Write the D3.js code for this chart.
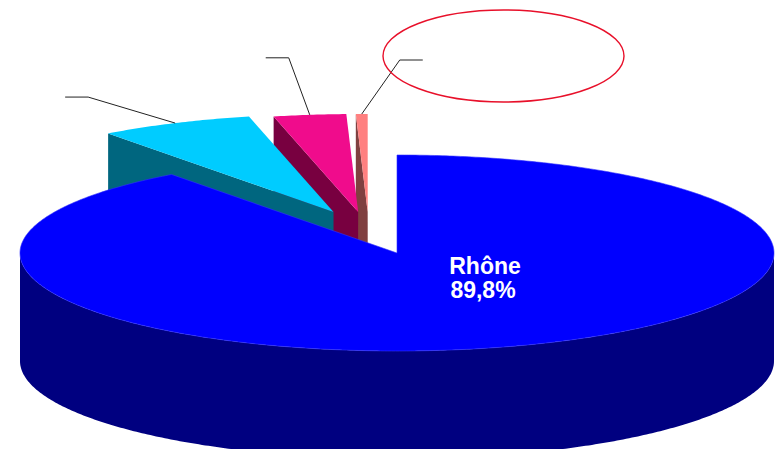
<!DOCTYPE html>
<html><head><meta charset="utf-8">
<script src="https://cdn.jsdelivr.net/npm/d3@7/dist/d3.min.js"></script>
<style>html,body{margin:0;padding:0;background:#fff;overflow:hidden}</style>
</head><body>
<svg id="c" width="781" height="449"></svg>
<script>
// ---- data ----
const categories = ["Rhône", "Slice 2", "Slice 3", "Slice 4"];
const values = [89.8, 6.6, 3.1, 0.5];
const valueLabels = ["89,8%", "", "", ""];
const showLabel = [true, false, false, false];
const topColors = ["#0000FF", "#00CCFF", "#F00C8C", "#FF8080"];
const sideColors = ["#000080", "#00667F", "#780040", "#804040"];

// ---- layout ----
const W = 781, H = 449;
const cx = 397, cy = 253, rx = 377, ry = 98, depth = 108;
const groupShift = [-28, -41];      // shift of the detached small slices
const explodeX = 0.224;             // extra horizontal explosion of small slices
const leader = [null, [-87, -26, -23], [-21, -57, -23], [38, -54, 23]];

const svg = d3.select("#c");
const pie = d3.pie().sort(null).startAngle(0).endAngle(2 * Math.PI).value(d => d);
const arcs = pie(values);

const sx = d3.scaleLinear().domain([-1, 1]).range([-rx, rx]);
const sy = d3.scaleLinear().domain([-1, 1]).range([-ry, ry]);
const line = d3.line();

function offset(i) {
  if (i === 0) return [0, 0];
  const a = arcs[i], mid = (a.startAngle + a.endAngle) / 2;
  return [groupShift[0] + explodeX * sx(Math.sin(mid)), groupShift[1]];
}
function P(th, o, z) {
  return [cx + o[0] + sx(Math.sin(th)), cy + o[1] - sy(Math.cos(th)) + (z || 0)];
}
function arcPts(a0, a1, o, z) {
  const n = Math.max(2, Math.ceil(Math.abs(a1 - a0) / 0.01));
  return d3.range(n + 1).map(k => P(a0 + (a1 - a0) * k / n, o, z));
}

const g = svg.append("g");

// small detached slices: draw from right to left (back to front)
[3, 2, 1].forEach(i => {
  const a = arcs[i], o = offset(i);
  const apex = [cx + o[0], cy + o[1]];
  const p0 = P(a.startAngle, o);
  // visible radial face at start angle
  g.append("path")
    .attr("d", line([apex, p0, [p0[0], p0[1] + depth], [apex[0], apex[1] + depth]]) + "Z")
    .attr("fill", sideColors[i]);
  // top face
  g.append("path")
    .attr("d", line([apex, ...arcPts(a.startAngle, a.endAngle, o)]) + "Z")
    .attr("fill", topColors[i]);
});

// main slice
{
  const a = arcs[0], o = offset(0);
  const s0 = Math.max(a.startAngle, Math.PI / 2), s1 = Math.min(a.endAngle, 3 * Math.PI / 2);
  const topArc = arcPts(s0, s1, o);
  const botArc = arcPts(s0, s1, o, depth).reverse();
  g.append("path").attr("d", line([...topArc, ...botArc]) + "Z").attr("fill", sideColors[0]);
  const apex = [cx, cy];
  g.append("path")
    .attr("d", line([apex, ...arcPts(a.startAngle, a.endAngle, o)]) + "Z")
    .attr("fill", topColors[0])
    .attr("stroke", "#3030ff").attr("stroke-width", 0.6);
}

// leader lines
arcs.forEach((a, i) => {
  if (!leader[i]) return;
  const o = offset(i), mid = (a.startAngle + a.endAngle) / 2;
  const p = P(mid, o);
  const e = [p[0] + leader[i][0], p[1] + leader[i][1]];
  const f = [e[0] + leader[i][2], e[1]];
  g.append("path").attr("d", line([p, e, f])).attr("fill", "none")
    .attr("stroke", "#222").attr("stroke-width", 1);
});

// label
arcs.forEach((a, i) => {
  if (!showLabel[i]) return;
  const t = g.append("text").attr("x", 485).attr("y", 274)
    .attr("text-anchor", "middle").attr("fill", "#fff")
    .attr("font-family", "Liberation Sans, Arial, sans-serif")
    .attr("font-weight", "bold").attr("font-size", 23);
  t.append("tspan").attr("x", 485).attr("dy", 0).text(categories[i]);
  t.append("tspan").attr("x", 483).attr("dy", 24).text(valueLabels[i]);
});

// red annotation ellipse
svg.append("ellipse").attr("cx", 503.5).attr("cy", 56).attr("rx", 120.5).attr("ry", 46)
  .attr("fill", "none").attr("stroke", "#E8102A").attr("stroke-width", 1.4);
</script>
</body></html>
